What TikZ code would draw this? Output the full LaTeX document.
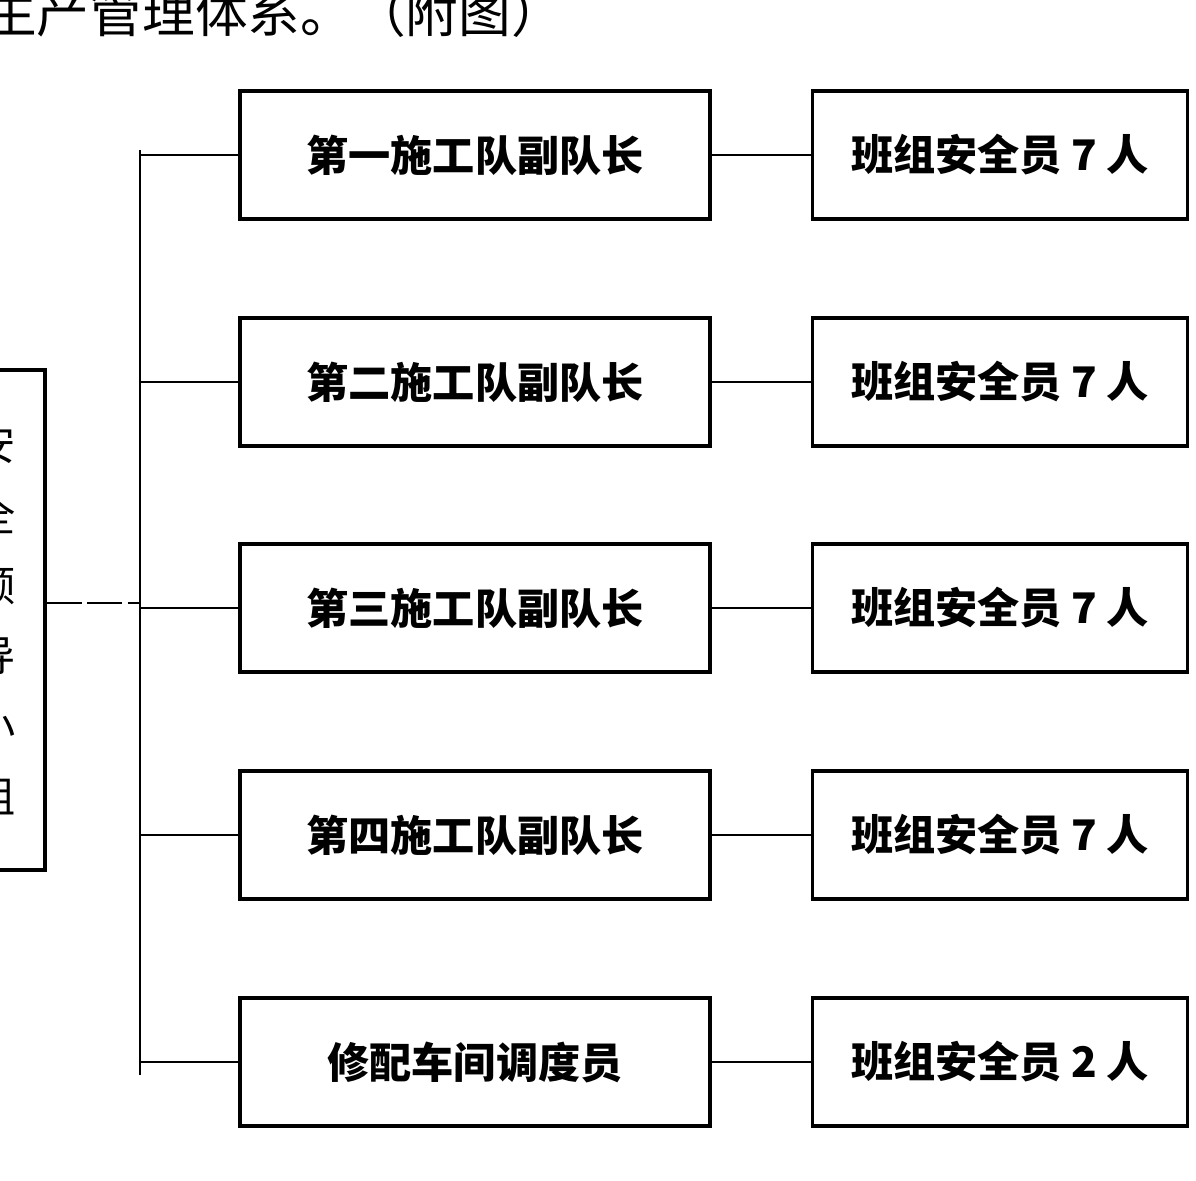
\documentclass[tikz,border=0pt]{standalone}
\usepackage{fontspec}
\newfontfamily\cjk{Noto Sans CJK SC}
\begin{document}
\begin{tikzpicture}[x=0.02cm,y=-0.02cm,
 box/.style={draw,line width=2.2pt,minimum width=9.4cm,minimum height=2.55cm,font=\cjk\bfseries\fontsize{24}{24}\selectfont,inner sep=0pt},
 sbox/.style={draw,line width=2.2pt,minimum width=7.5cm,minimum height=2.55cm,font=\cjk\bfseries\fontsize{24}{24}\selectfont,inner sep=0pt},
 ln/.style={line width=1.6pt}]
\useasboundingbox (0,0) rectangle (1196,1180);
\clip (0,0) rectangle (1196,1180);
\fill[white] (0,0) rectangle (1196,1180);
\node[anchor=west,font=\cjk\fontsize{30}{30}\selectfont] (title) at (-22,12) {生产管理体系。（附图）};
\node[draw,line width=2.2pt,minimum width=2cm,minimum height=10cm,font=\cjk\fontsize{24}{24}\selectfont,inner sep=0pt,align=center] (L) at (-5,620) {安\\[16pt]全\\[16pt]领\\[16pt]导\\[16pt]小\\[16pt]组};
\coordinate (t0) at (140,150);
\coordinate (t1) at (140,1075);
\draw[ln] (t0) -- (t1);
\coordinate (tm) at (140,603);
\draw[ln,dash pattern=on 20pt off 3pt] (L.east |- tm) -- (tm);
\foreach \i/\y/\a/\b in {1/155/第一施工队副队长/7, 2/382/第二施工队副队长/7, 3/608/第三施工队副队长/7, 4/835/第四施工队副队长/7, 5/1062/修配车间调度员/2}{
  \node[box] (a\i) at (475,\y) {\a};
  \node[sbox] (b\i) at (1000,\y) {班组安全员 \b\ 人};
  \coordinate (c\i) at (140,\y);
  \draw[ln] (c\i) -- (a\i.west);
  \draw[ln] (a\i.east) -- (b\i.west);
}
\end{tikzpicture}
\end{document}
